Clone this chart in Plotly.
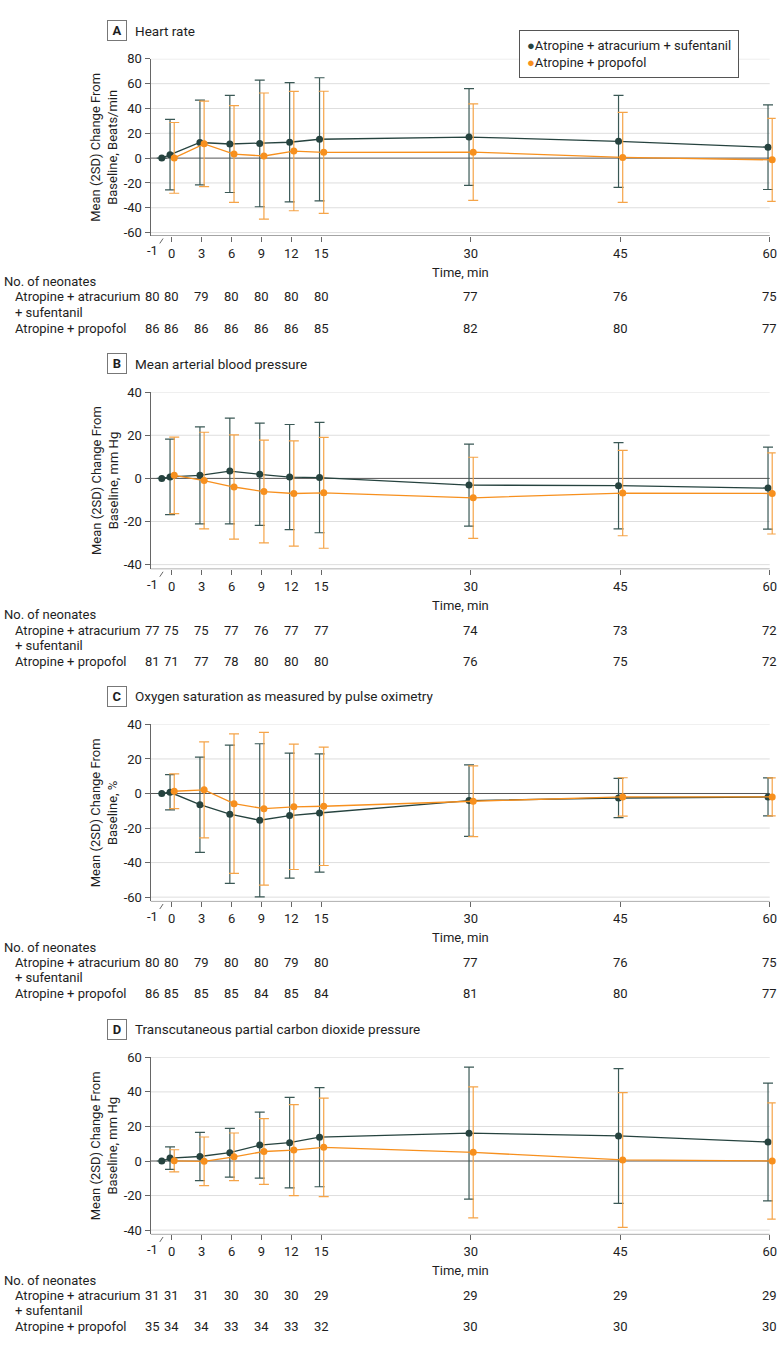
import plotly.graph_objects as go

# figure size in pixels, helpers to place things by pixel position
W, H = 780, 1349


def px(p):
    return p / W


def py(p):
    return 1 - p / H


times = [-1, 0, 3, 6, 9, 12, 15, 30, 45, 60]
x_ticks = [0, 3, 6, 9, 12, 15, 30, 45, 60]

# A - heart rate (the -1 baseline point is only drawn for the first group)
hr_aas_mean = [0, 2.8, 12.6, 11.4, 11.8, 12.8, 15.2, 17.0, 13.5, 8.8]
hr_aas_sd2 = [0, 28.4, 34.2, 39.1, 51.0, 48.0, 49.6, 39.0, 37.0, 34.1]
hr_ap_mean = [0.2, 11.5, 3.3, 1.7, 5.7, 4.7, 4.8, 0.6, -1.4]
hr_ap_sd2 = [28.5, 34.4, 39.0, 50.8, 48.1, 49.2, 38.9, 36.3, 33.5]
hr_aas_n = [80, 80, 79, 80, 80, 80, 80, 77, 76, 75]
hr_ap_n = [86, 86, 86, 86, 86, 86, 85, 82, 80, 77]

# B - mean arterial blood pressure
map_aas_mean = [0, 0.7, 1.4, 3.4, 1.9, 0.6, 0.4, -3.1, -3.4, -4.5]
map_aas_sd2 = [0, 17.5, 22.5, 24.5, 23.7, 24.4, 25.6, 19.0, 20.0, 19.0]
map_ap_mean = [1.4, -1.0, -4.0, -6.1, -7.0, -6.7, -9.0, -6.8, -7.0]
map_ap_sd2 = [17.7, 22.4, 24.2, 23.8, 24.4, 25.7, 18.8, 19.8, 18.8]
map_aas_n = [77, 75, 75, 77, 76, 77, 77, 74, 73, 72]
map_ap_n = [81, 71, 77, 78, 80, 80, 80, 76, 75, 72]

# C - oxygen saturation
spo2_aas_mean = [0, 0.7, -6.5, -12.0, -15.5, -12.8, -11.3, -4.1, -2.6, -2.0]
spo2_aas_sd2 = [0, 10.2, 27.6, 40.0, 44.3, 36.2, 34.2, 20.7, 11.4, 11.0]
spo2_ap_mean = [1.3, 2.1, -5.9, -8.8, -7.7, -7.4, -4.5, -2.0, -2.0]
spo2_ap_sd2 = [10.1, 27.8, 40.4, 44.2, 36.3, 34.3, 20.5, 11.1, 11.0]
spo2_aas_n = [80, 80, 79, 80, 80, 79, 80, 77, 76, 75]
spo2_ap_n = [86, 85, 85, 85, 84, 85, 84, 81, 80, 77]

# D - transcutaneous CO2
tco2_aas_mean = [0, 1.7, 2.6, 4.8, 9.2, 10.6, 13.8, 16.1, 14.5, 11.0]
tco2_aas_sd2 = [0, 6.5, 14.0, 14.1, 19.1, 26.2, 28.7, 38.2, 39.0, 34.1]
tco2_ap_mean = [0.1, -0.2, 2.4, 5.5, 6.3, 7.9, 5.0, 0.6, 0.0]
tco2_ap_sd2 = [6.4, 14.1, 13.8, 19.0, 26.3, 28.5, 37.9, 39.0, 33.7]
tco2_aas_n = [31, 31, 31, 30, 30, 30, 29, 29, 29, 29]
tco2_ap_n = [35, 34, 34, 33, 34, 33, 32, 30, 30, 30]

group_names = ["Atropine + atracurium + sufentanil", "Atropine + propofol"]

panels = [
    dict(letter="A", title="Heart rate", unit="Beats/min", top=52.3,
         yrange=[-62.7, 80], yticks=[-60, -40, -20, 0, 20, 40, 60, 80],
         a=(hr_aas_mean, hr_aas_sd2, hr_aas_n), b=(hr_ap_mean, hr_ap_sd2, hr_ap_n)),
    dict(letter="B", title="Mean arterial blood pressure", unit="mm Hg", top=388.3,
         yrange=[-42.1, 40], yticks=[-40, -20, 0, 20, 40],
         a=(map_aas_mean, map_aas_sd2, map_aas_n), b=(map_ap_mean, map_ap_sd2, map_ap_n)),
    dict(letter="C", title="Oxygen saturation as measured by pulse oximetry", unit="%", top=723.3,
         yrange=[-62.5, 40], yticks=[-60, -40, -20, 0, 20, 40],
         a=(spo2_aas_mean, spo2_aas_sd2, spo2_aas_n), b=(spo2_ap_mean, spo2_ap_sd2, spo2_ap_n)),
    dict(letter="D", title="Transcutaneous partial carbon dioxide pressure", unit="mm Hg", top=1059,
         yrange=[-42.5, 60], yticks=[-40, -20, 0, 20, 40, 60],
         a=(tco2_aas_mean, tco2_aas_sd2, tco2_aas_n), b=(tco2_ap_mean, tco2_ap_sd2, tco2_ap_n)),
]

DARK = "#26433f"
DARK_ERR = "#3a5855"
ORANGE = "#f7901e"
ORANGE_ERR = "#f5a448"
TXT = "#1e1e1e"
FONT = "Roboto"
AXIS = "#666"

# x scale: -2.13 .. 60 spans 150.7 .. 770.7 px; a little room kept right of 60
# so the shifted orange points at 60 are not clipped
X0, X_END, X_MAX = -2.13, 60, 60.6
plot_left, plot_h = 150.7, 178.5
px_per_min = (770.7 - plot_left) / (X_END - X0)
plot_right = plot_left + (X_MAX - X0) * px_per_min

fig = go.Figure()
annotations = []
shapes = []

for i, p in enumerate(panels):
    k = "" if i == 0 else str(i + 1)
    top = p["top"]
    bottom = top + plot_h

    a_mean, a_sd, a_n = p["a"]
    b_mean, b_sd, b_n = p["b"]

    # grid lines, zero line and x axis line stop at 60 min
    for v in p["yticks"]:
        shapes.append(dict(type="line", xref="x" + k, yref="y" + k, x0=X0, x1=X_END, y0=v, y1=v,
                           layer="below",
                           line=dict(color="#555" if v == 0 else "#dedede", width=1)))
    shapes.append(dict(type="line", xref="x" + k, yref="y" + k, x0=X0, x1=X_END,
                       y0=p["yrange"][0], y1=p["yrange"][0], layer="below",
                       line=dict(color=AXIS, width=1)))

    # dark group slightly left of the tick, orange slightly right
    fig.add_trace(go.Scatter(
        x=[t - 0.17 if t >= 0 else t for t in times], y=a_mean,
        mode="lines+markers", xaxis="x" + k, yaxis="y" + k,
        line=dict(color=DARK, width=1.3), marker=dict(color=DARK, size=7),
        error_y=dict(type="data", array=a_sd, symmetric=True, color=DARK_ERR, thickness=1.2, width=5),
        cliponaxis=False, showlegend=False, name=group_names[0]))
    fig.add_trace(go.Scatter(
        x=[t + 0.25 for t in times[1:]], y=b_mean,
        mode="lines+markers", xaxis="x" + k, yaxis="y" + k,
        line=dict(color=ORANGE, width=1.3), marker=dict(color=ORANGE, size=7),
        error_y=dict(type="data", array=b_sd, symmetric=True, color=ORANGE_ERR, thickness=1.2, width=5),
        cliponaxis=False, showlegend=False, name=group_names[1]))

    fig.layout["xaxis" + k] = dict(
        domain=[px(plot_left), px(plot_right)], range=[X0, X_MAX], anchor="y" + k,
        tickvals=x_ticks, ticks="outside", ticklen=5, tickcolor=AXIS,
        showline=False, showgrid=False, zeroline=False,
        tickfont=dict(size=13, color=TXT, family=FONT))
    fig.layout["yaxis" + k] = dict(
        domain=[py(bottom), py(top)], range=p["yrange"], anchor="x" + k,
        tickvals=p["yticks"], ticktext=[str(v) for v in p["yticks"]],
        ticks="outside", ticklen=5, tickcolor=AXIS,
        showline=True, linecolor=AXIS, linewidth=1,
        showgrid=False, zeroline=False,
        tickfont=dict(size=13, color=TXT, family=FONT))

    # panel letter box and title
    annotations.append(dict(
        text="<b>%s</b>" % p["letter"], x=px(117), y=py(top - 28.5), xref="paper", yref="paper",
        xanchor="center", yanchor="middle", showarrow=False, width=12, height=13,
        bordercolor="#777", borderwidth=1, borderpad=3,
        font=dict(size=13, color=TXT, family=FONT)))
    annotations.append(dict(
        text=p["title"], x=px(133), y=py(top - 28.5), xref="paper", yref="paper",
        xanchor="left", yanchor="middle", showarrow=False,
        font=dict(size=13.5, color=TXT, family=FONT)))

    # y axis title
    annotations.append(dict(
        text="Mean (2SD) Change From<br>Baseline, %s" % p["unit"], textangle=-90,
        x=px(104.5), y=py(top + plot_h / 2), xref="paper", yref="paper",
        xanchor="center", yanchor="middle", showarrow=False,
        font=dict(size=13, color=TXT, family=FONT)))

    # -1 label and axis-break mark
    annotations.append(dict(
        text="-1", x=-1.9, y=py(bottom + 15), xref="x" + k, yref="paper",
        xanchor="center", yanchor="middle", showarrow=False,
        font=dict(size=13, color=TXT, family=FONT)))
    shapes.append(dict(
        type="line", xref="x" + k, yref="paper", x0=-1.2, x1=-0.87,
        y0=py(bottom + 7.6), y1=py(bottom + 2.6), line=dict(color=AXIS, width=1)))

    annotations.append(dict(
        text="Time, min", x=px((plot_left + 770.7) / 2), y=py(bottom + 36.5),
        xref="paper", yref="paper", xanchor="center", yanchor="middle", showarrow=False,
        font=dict(size=13, color=TXT, family=FONT)))

    # number-at-risk table
    annotations.append(dict(
        text="No. of neonates", x=px(2), y=py(bottom + 46), xref="paper", yref="paper",
        xanchor="left", yanchor="middle", showarrow=False,
        font=dict(size=13, color=TXT, family=FONT)))
    row_labels = [("Atropine + atracurium", 61.5), ("+ sufentanil", 77), ("Atropine + propofol", 93)]
    for lab, dy in row_labels:
        annotations.append(dict(
            text=lab, x=px(12.7), y=py(bottom + dy), xref="paper", yref="paper",
            xanchor="left", yanchor="middle", showarrow=False,
            font=dict(size=13, color=TXT, family=FONT)))
    for n_list, dy in [(a_n, 61.5), (b_n, 93)]:
        for t, n in zip(times, n_list):
            annotations.append(dict(
                text=str(n), x=t if t >= 0 else -1.9, y=py(bottom + dy),
                xref="x" + k, yref="paper", xanchor="center", yanchor="middle",
                showarrow=False, font=dict(size=13, color=TXT, family=FONT)))

# legend box (panel A)
annotations.append(dict(
    text=('<span style="color:%s">\u25cf</span>%s<br><span style="color:%s">\u25cf</span>%s'
          % (DARK, group_names[0], ORANGE, group_names[1])),
    x=px(520), y=py(22.7), xref="paper", yref="paper", xanchor="left", yanchor="top",
    align="left", showarrow=False, bgcolor="white",
    bordercolor="#555", borderwidth=1, borderpad=7,
    font=dict(size=13, color=TXT, family=FONT)))

fig.update_layout(
    width=W, height=H, margin=dict(l=0, r=0, t=0, b=0),
    paper_bgcolor="white", plot_bgcolor="white",
    font=dict(family=FONT, color=TXT),
    annotations=annotations, shapes=shapes, showlegend=False)

# drop the default page margin so the figure sits at the window's top-left corner
fig.write_html("out.html", config={"displayModeBar": False},
               post_script="document.body.style.margin='0'; document.body.style.overflow='hidden';")
